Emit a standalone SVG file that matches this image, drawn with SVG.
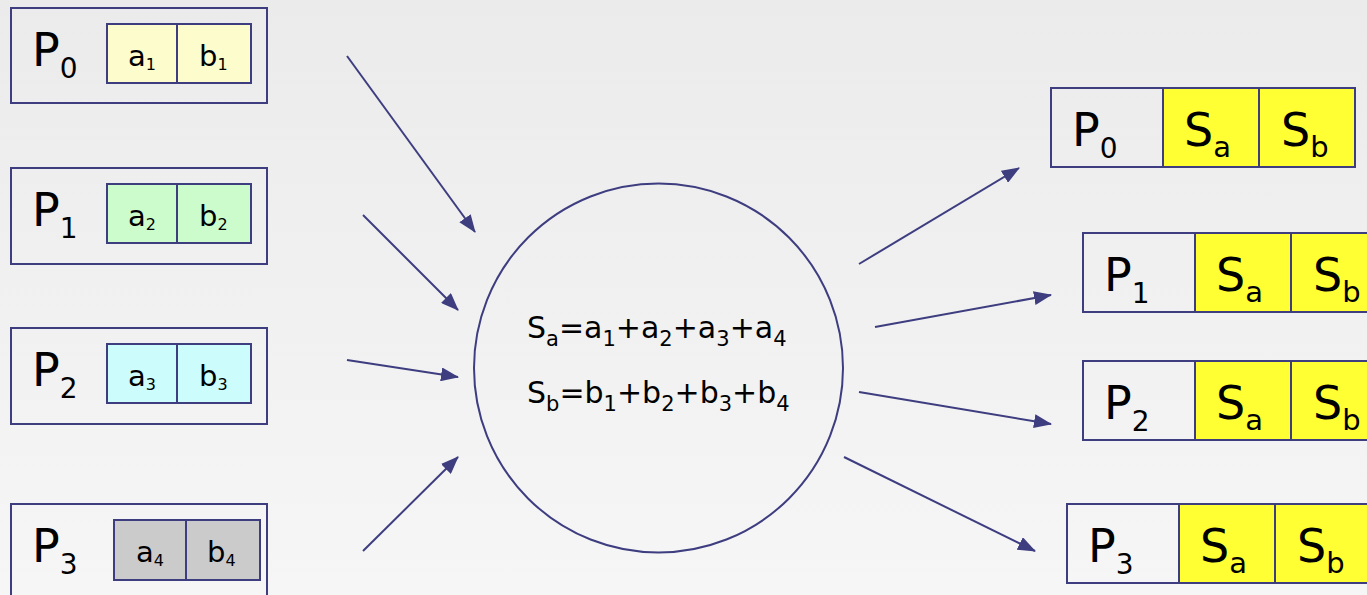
<svg xmlns="http://www.w3.org/2000/svg" width="1367" height="595" viewBox="0 0 1367 595">
<style>
.box{stroke:#3d3d80;stroke-width:2}
.t{font-family:"DejaVu Sans","Liberation Sans",sans-serif;fill:#000}
.big{font-size:46px}
.mid{font-size:29px}
.f{font-size:30px}
.conn line{stroke:#3d3d80;stroke-width:2;marker-end:url(#ah)}
</style>
<defs>
<linearGradient id="bg" x1="0" y1="0" x2="0" y2="1">
<stop offset="0" stop-color="#ebebeb"/>
<stop offset="1" stop-color="#f6f6f6"/>
</linearGradient>
<marker id="ah" markerUnits="userSpaceOnUse" markerWidth="18" markerHeight="14" refX="17" refY="7" orient="auto" viewBox="0 0 18 14">
<path d="M0,0 L18,7 L0,14 Z" fill="#3d3d80"/>
</marker>
</defs>
<rect width="1367" height="595" fill="url(#bg)"/>

<g id="L0">
<rect class="box" x="11" y="8" width="256" height="95" fill="none"/>
<rect class="box" x="107" y="24" width="70" height="59" fill="#fcfccc"/>
<rect class="box" x="177" y="24" width="74" height="59" fill="#fcfccc"/>
<text class="t big" x="32" y="66">P<tspan font-size="28" dy="12">0</tspan></text>
<text class="t mid" x="128" y="66">a<tspan font-size="16" dy="4">1</tspan></text>
<text class="t mid" x="199" y="66">b<tspan font-size="16" dy="4">1</tspan></text>
</g>
<g id="L1">
<rect class="box" x="11" y="168" width="256" height="96" fill="none"/>
<rect class="box" x="107" y="184" width="70" height="59" fill="#ccfccc"/>
<rect class="box" x="177" y="184" width="74" height="59" fill="#ccfccc"/>
<text class="t big" x="32" y="226">P<tspan font-size="28" dy="12">1</tspan></text>
<text class="t mid" x="128" y="226">a<tspan font-size="16" dy="4">2</tspan></text>
<text class="t mid" x="199" y="226">b<tspan font-size="16" dy="4">2</tspan></text>
</g>
<g id="L2">
<rect class="box" x="11" y="328" width="256" height="96" fill="none"/>
<rect class="box" x="107" y="344" width="70" height="59" fill="#ccfcfc"/>
<rect class="box" x="177" y="344" width="74" height="59" fill="#ccfcfc"/>
<text class="t big" x="32" y="386">P<tspan font-size="28" dy="12">2</tspan></text>
<text class="t mid" x="128" y="386">a<tspan font-size="16" dy="4">3</tspan></text>
<text class="t mid" x="199" y="386">b<tspan font-size="16" dy="4">3</tspan></text>
</g>
<g id="L3">
<rect class="box" x="11" y="504" width="256" height="100" fill="none"/>
<rect class="box" x="114" y="520" width="72" height="60" fill="#cbcbcb"/>
<rect class="box" x="186" y="520" width="74" height="60" fill="#cbcbcb"/>
<text class="t big" x="32" y="562">P<tspan font-size="28" dy="12">3</tspan></text>
<text class="t mid" x="136" y="562">a<tspan font-size="16" dy="4">4</tspan></text>
<text class="t mid" x="207" y="562">b<tspan font-size="16" dy="4">4</tspan></text>
</g>

<g id="center">
<circle class="box" cx="658.5" cy="368" r="184.5" fill="none"/>
<text class="t f" x="527" y="338">S<tspan font-size="21" dy="8">a</tspan><tspan dy="-8">=a</tspan><tspan font-size="21" dy="8">1</tspan><tspan dy="-8">+a</tspan><tspan font-size="21" dy="8">2</tspan><tspan dy="-8">+a</tspan><tspan font-size="21" dy="8">3</tspan><tspan dy="-8">+a</tspan><tspan font-size="21" dy="8">4</tspan></text>
<text class="t f" x="527" y="403">S<tspan font-size="21" dy="8">b</tspan><tspan dy="-8">=b</tspan><tspan font-size="21" dy="8">1</tspan><tspan dy="-8">+b</tspan><tspan font-size="21" dy="8">2</tspan><tspan dy="-8">+b</tspan><tspan font-size="21" dy="8">3</tspan><tspan dy="-8">+b</tspan><tspan font-size="21" dy="8">4</tspan></text>
</g>

<g id="R0">
<rect class="box" x="1051" y="88" width="112" height="79" fill="none"/>
<rect class="box" x="1163" y="88" width="96" height="79" fill="#ffff33"/>
<rect class="box" x="1259" y="88" width="96" height="79" fill="#ffff33"/>
<text class="t big" x="1072" y="146">P<tspan font-size="28" dy="12">0</tspan></text>
<text class="t big" x="1184" y="146">S<tspan font-size="29" dy="11">a</tspan></text>
<text class="t big" x="1281" y="146">S<tspan font-size="29" dy="11">b</tspan></text>
</g>
<g id="R1">
<rect class="box" x="1083" y="233" width="112" height="79" fill="none"/>
<rect class="box" x="1195" y="233" width="96" height="79" fill="#ffff33"/>
<rect class="box" x="1291" y="233" width="96" height="79" fill="#ffff33"/>
<text class="t big" x="1104" y="291">P<tspan font-size="28" dy="12">1</tspan></text>
<text class="t big" x="1216" y="291">S<tspan font-size="29" dy="11">a</tspan></text>
<text class="t big" x="1313" y="291">S<tspan font-size="29" dy="11">b</tspan></text>
</g>
<g id="R2">
<rect class="box" x="1083" y="361" width="112" height="79" fill="none"/>
<rect class="box" x="1195" y="361" width="96" height="79" fill="#ffff33"/>
<rect class="box" x="1291" y="361" width="96" height="79" fill="#ffff33"/>
<text class="t big" x="1104" y="419">P<tspan font-size="28" dy="12">2</tspan></text>
<text class="t big" x="1216" y="419">S<tspan font-size="29" dy="11">a</tspan></text>
<text class="t big" x="1313" y="419">S<tspan font-size="29" dy="11">b</tspan></text>
</g>
<g id="R3">
<rect class="box" x="1067" y="504" width="112" height="79" fill="none"/>
<rect class="box" x="1179" y="504" width="96" height="79" fill="#ffff33"/>
<rect class="box" x="1275" y="504" width="96" height="79" fill="#ffff33"/>
<text class="t big" x="1088" y="562">P<tspan font-size="28" dy="12">3</tspan></text>
<text class="t big" x="1200" y="562">S<tspan font-size="29" dy="11">a</tspan></text>
<text class="t big" x="1297" y="562">S<tspan font-size="29" dy="11">b</tspan></text>
</g>

<g class="conn" id="connectors">
<line x1="347" y1="56" x2="475" y2="232"/>
<line x1="363" y1="215" x2="458" y2="310"/>
<line x1="347" y1="360" x2="458" y2="377"/>
<line x1="363" y1="551" x2="458" y2="457"/>
<line x1="859" y1="264" x2="1019" y2="168"/>
<line x1="875" y1="327" x2="1051" y2="295"/>
<line x1="859" y1="392" x2="1051" y2="424"/>
<line x1="844" y1="457" x2="1035" y2="551"/>
</g>
</svg>
